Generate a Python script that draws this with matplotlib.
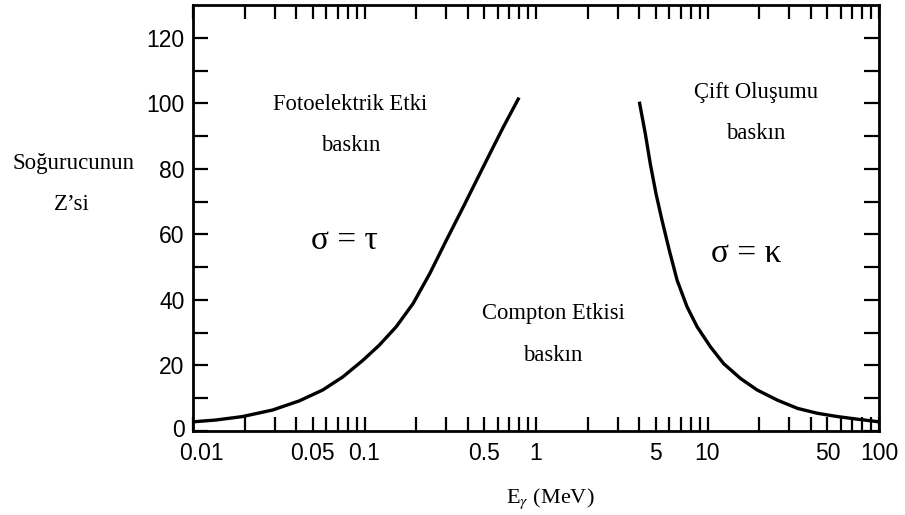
import numpy as np
import matplotlib
matplotlib.use("Agg")
import matplotlib.pyplot as plt
from matplotlib.ticker import FixedLocator, LogLocator, NullFormatter, FixedFormatter
from matplotlib.transforms import ScaledTranslation

# boundary between photoelectric and Compton regions (E in MeV, Z)
photo_E = [0.01, 0.0136, 0.0194, 0.0291, 0.0417, 0.057, 0.0747, 0.098, 0.122,
           0.153, 0.192, 0.24, 0.300, 0.376, 0.450, 0.538, 0.644, 0.788]
photo_Z = [2.8, 3.35, 4.4, 6.4, 9.2, 12.5, 16.5, 21.6, 26.2,
           31.8, 38.9, 48.0, 58.2, 68.3, 76.5, 84.6, 92.7, 101.3]

# boundary between Compton and pair production regions
pair_E = [4.02, 4.34, 4.64, 5.01, 5.43, 5.99, 6.65, 7.60, 8.7, 10.4,
          12.4, 15.6, 19.5, 25.6, 33.5, 43.8, 57.3, 75.0, 100.0]
pair_Z = [100.0, 90.7, 81.5, 72.4, 64.3, 55.1, 46.0, 37.9, 31.8, 25.7,
          20.6, 16.0, 12.5, 9.4, 6.9, 5.4, 4.4, 3.6, 2.8]

xtick_vals = [0.01, 0.05, 0.1, 0.5, 1, 5, 10, 50, 100]
xtick_labels = ["0.01", "0.05", "0.1", "0.5", "1", "5", "10", "50", "100"]
ytick_vals = [0, 20, 40, 60, 80, 100, 120]

serif = "Liberation Serif"
sans = "Liberation Sans"
fs = 16.3

fig = plt.figure(figsize=(9.05, 5.15), dpi=100)
ax = fig.add_axes([193 / 905, 1 - 431 / 515, 686 / 905, 426 / 515])

ax.plot(photo_E, photo_Z, color="black", lw=2.4, solid_joinstyle="round")
ax.plot(pair_E, pair_Z, color="black", lw=2.4, solid_joinstyle="round")

ax.set_xscale("log")
ax.set_xlim(0.01, 100)
ax.set_ylim(0, 130)

for s in ax.spines.values():
    s.set_linewidth(2.0)

ax.xaxis.set_major_locator(FixedLocator(xtick_vals))
ax.xaxis.set_major_formatter(FixedFormatter(xtick_labels))
ax.xaxis.set_minor_locator(LogLocator(base=10, subs=np.arange(2, 10)))
ax.xaxis.set_minor_formatter(NullFormatter())
ax.yaxis.set_major_locator(FixedLocator(ytick_vals))
ax.yaxis.set_minor_locator(FixedLocator(np.arange(10, 130, 10)))

ax.tick_params(which="both", direction="in", top=True, right=True,
               length=10, width=1.6, color="black")
ax.tick_params(axis="x", which="major", pad=8)
ax.tick_params(axis="y", which="major", pad=6)
ax.tick_params(axis="y", which="both", right=True, length=11)
for lab in ax.get_xticklabels() + ax.get_yticklabels():
    lab.set_fontfamily(sans)
    lab.set_fontsize(16.5)

# corner labels: "0" a bit up, "0.01" a bit right, as in the original
lab0 = ax.get_yticklabels()[0]
lab0.set_transform(lab0.get_transform() + ScaledTranslation(0, 3 / 100, fig.dpi_scale_trans))
lab001 = ax.get_xticklabels()[0]
lab001.set_transform(lab001.get_transform() + ScaledTranslation(8 / 100, 0, fig.dpi_scale_trans))

ax.text(0.0826, 99.6, "Fotoelektrik Etki", family=serif, fontsize=fs,
        ha="center", va="center")
ax.text(0.0835, 87.1, "baskın", family=serif, fontsize=fs, ha="center", va="center")
ax.text(0.0763, 58.2, "σ = τ", family=serif, fontsize=24, ha="center", va="center")
ax.text(1.257, 35.8, "Compton Etkisi", family=serif, fontsize=fs, ha="center", va="center")
ax.text(1.257, 23.1, "baskın", family=serif, fontsize=fs, ha="center", va="center")
ax.text(19.3, 103.4, "Çift Oluşumu", family=serif, fontsize=fs, ha="center", va="center")
ax.text(19.2, 90.9, "baskın", family=serif, fontsize=fs, ha="center", va="center")
ax.text(16.9, 54.1, "σ = κ", family=serif, fontsize=24, ha="center", va="center")

fig.text(73 / 905, 1 - 163 / 515, "Soğurucunun", family=serif, fontsize=16.5,
         ha="center", va="center")
fig.text(72 / 905, 1 - 205 / 515, "Z’si", family=serif, fontsize=16.5,
         ha="center", va="center")
fig.text(550 / 905, 1 - 499 / 515, "E$_\\gamma$ (MeV)", family=serif, fontsize=16,
         ha="center", va="center", math_fontfamily="stix")

fig.savefig("out.png", dpi=100)
